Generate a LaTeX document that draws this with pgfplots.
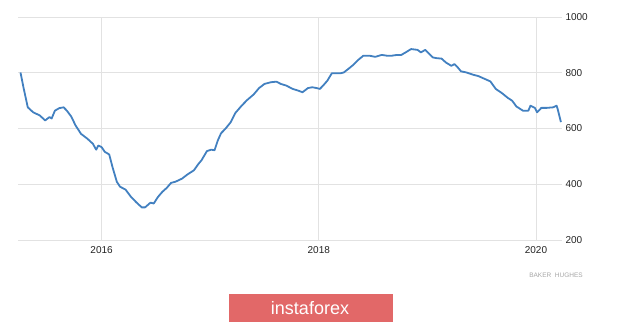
\documentclass[border=0pt]{standalone}
\usepackage{pgfplots}
\pgfplotsset{compat=1.18}
\usepackage{fontspec}
\setmainfont{Liberation Sans}
\definecolor{linecol}{RGB}{66,128,192}
\definecolor{gridcol}{RGB}{226,226,226}
\definecolor{labcol}{RGB}{35,35,35}
\definecolor{bannercol}{RGB}{226,104,104}
\begin{document}
\begin{tikzpicture}
\useasboundingbox (0,0) rectangle (620pt,323pt);
\begin{axis}[
  at={(18pt,83pt)}, anchor=south west,
  scale only axis, width=544pt, height=223pt,
  xmin=2015.23, xmax=2020.24, ymin=200, ymax=1000,
  axis line style={draw=none},
  xtick={2016,2018,2020}, xticklabels={2016,2018,2020},
  ytick={200,400,600,800,1000},
  yticklabel pos=right,
  grid=major, major grid style={gridcol, line width=0.7pt},
  tick style={draw=none},
  ticklabel style={font=\fontsize{10}{11}\selectfont, text=labcol},
  xticklabel style={yshift=-3pt},
  /pgf/number format/assume math mode=true,
  /pgf/number format/1000 sep={},
  clip=false,
]
\addplot[linecol, line width=1.8pt, line join=round] coordinates {
(2015.253,801) (2015.28,748) (2015.32,676) (2015.37,658) (2015.43,647)
(2015.48,629) (2015.52,641) (2015.54,636) (2015.57,664) (2015.61,673)
(2015.65,676) (2015.68,664) (2015.72,643) (2015.76,611) (2015.81,581)
(2015.87,563) (2015.92,545) (2015.95,524) (2015.97,539) (2016.0,533)
(2016.03,516) (2016.07,507) (2016.10,462) (2016.14,409) (2016.17,391)
(2016.22,381) (2016.27,355) (2016.32,335) (2016.37,317) (2016.40,317)
(2016.45,334) (2016.48,331) (2016.52,355) (2016.56,373) (2016.60,387)
(2016.64,405) (2016.68,409) (2016.74,420) (2016.79,435) (2016.85,450)
(2016.89,472) (2016.92,486) (2016.97,519) (2017.01,524) (2017.04,522)
(2017.07,557) (2017.10,583) (2017.14,599) (2017.19,623) (2017.23,655)
(2017.29,682) (2017.34,702) (2017.40,722) (2017.45,745) (2017.50,760)
(2017.56,766) (2017.61,768) (2017.65,760) (2017.70,754) (2017.76,742)
(2017.81,736) (2017.85,730) (2017.90,745) (2017.94,748) (2017.98,745)
(2018.01,742) (2018.04,754) (2018.08,772) (2018.12,798) (2018.16,798)
(2018.20,798) (2018.23,801) (2018.27,813) (2018.32,829) (2018.36,845)
(2018.41,861) (2018.47,861) (2018.52,857) (2018.58,864) (2018.63,861)
(2018.67,861) (2018.72,864) (2018.76,864) (2018.80,873) (2018.85,885)
(2018.91,882) (2018.94,873) (2018.98,882) (2019.02,867) (2019.05,855)
(2019.09,852) (2019.13,851) (2019.17,837) (2019.22,825) (2019.25,831)
(2019.28,819) (2019.31,805) (2019.36,801) (2019.42,793) (2019.47,788)
(2019.51,781) (2019.58,769) (2019.63,742) (2019.69,726) (2019.74,710)
(2019.78,700) (2019.82,679) (2019.88,664) (2019.93,664) (2019.95,682)
(2019.99,674) (2020.01,658) (2020.05,674) (2020.10,674) (2020.16,676)
(2020.19,682) (2020.20,670) (2020.23,623)
};
\end{axis}
\node[anchor=center, text=gray!70, font=\fontsize{6.5}{7}\selectfont] at (556pt,48pt) {BAKER\ \ HUGHES};
\fill[bannercol] (229pt,1pt) rectangle (393pt,29pt);
\node[anchor=center, text=white, font=\fontsize{18}{19}\selectfont] at (310pt,15pt) {instaforex};
\end{tikzpicture}
\end{document}
